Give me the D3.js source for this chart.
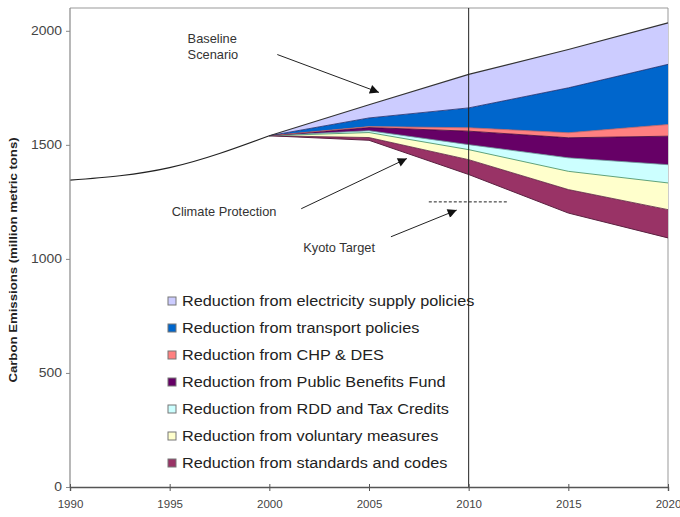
<!DOCTYPE html>
<html>
<head>
<meta charset="utf-8">
<script src="https://cdn.jsdelivr.net/npm/d3@7"></script>
<style>
  body { margin: 0; background: #fff; }
  svg { display: block; font-family: Arial, "Liberation Sans", sans-serif; }
</style>
</head>
<body>
<svg id="chart" width="680" height="517"></svg>
<script>
// history before the scenarios split
const histYears = [1990, 1995, 2000]
const histEmissions = [1345, 1400, 1540]

// scenario years and the stacked reductions (bottom to top)
const years = [2000, 2005, 2010, 2015, 2020]
const climateProtection = [1540, 1520, 1370, 1201, 1092]
const standardsCodes = [0, 12, 65, 103, 124]
const voluntaryMeasures = [0, 22, 44, 80, 117]
const rddTaxCredits = [0, 8, 22, 59, 80]
const publicBenefits = [0, 14, 59, 88, 125]
const chpDes = [0, 4, 15, 22, 51]
const transportPolicies = [0, 38, 87, 197, 264]
const electricitySupply = [0, 58, 147, 168, 182]

const seriesNames = [
  'Reduction from standards and codes',
  'Reduction from voluntary measures',
  'Reduction from RDD and Tax Credits',
  'Reduction from Public Benefits Fund',
  'Reduction from CHP & DES',
  'Reduction from transport policies',
  'Reduction from electricity supply policies'
]
const seriesColors = ['#993366', '#FFFFCC', '#CCFFFF', '#660066', '#FF8080', '#0066CC', '#CCCCFF']
const edgeColors = ['#5a2040', '#3f8a5a', '#6a9a9a', '#3a003a', '#c06060', '#1a2a6a', '#333333']

const kyotoTarget = 1250
const kyotoYears = [2008, 2012]
const tickYears = [1990, 1995, 2000, 2005, 2010, 2015, 2020]
const tickValues = [0, 500, 1000, 1500, 2000]

const svg = d3.select('#chart')
const plotLeft = 70
const plotRight = 668
const plotTop = 8
const plotBottom = 487
// the source picture is a little wider than tall, text looks stretched
const stretch = 1.16

const x = d3.scaleLinear().domain([1990, 2020]).range([plotLeft, plotRight])
const y = d3.scaleLinear().domain([0, 2100]).range([plotBottom, plotTop])

// build the table for the stack
const seriesArrays = [climateProtection, standardsCodes, voluntaryMeasures, rddTaxCredits,
  publicBenefits, chpDes, transportPolicies, electricitySupply]
const keys = ['base'].concat(seriesNames)
const table = years.map((yr, i) => {
  const row = { year: yr }
  keys.forEach((k, j) => { row[k] = seriesArrays[j][i] })
  return row
})
const layers = d3.stack().keys(keys)(table)

const area = d3.area()
  .x(d => x(d.data.year))
  .y0(d => y(d[0]))
  .y1(d => y(d[1]))

const topLine = d3.line()
  .x(d => x(d.data.year))
  .y(d => y(d[1]))

// frame
svg.append('line').attr('x1', plotLeft).attr('x2', plotRight).attr('y1', plotTop).attr('y2', plotTop)
  .attr('stroke', '#999').attr('stroke-width', 1)
svg.append('line').attr('x1', plotRight).attr('x2', plotRight).attr('y1', plotTop).attr('y2', plotBottom)
  .attr('stroke', '#999').attr('stroke-width', 1)

layers.slice(1).forEach((layer, i) => {
  svg.append('path')
    .datum(layer)
    .attr('d', area)
    .attr('fill', seriesColors[i])
})

// edges of each band
svg.append('path')
  .datum(layers[0])
  .attr('d', topLine)
  .attr('fill', 'none')
  .attr('stroke', '#5a2040')
  .attr('stroke-width', 1)
layers.slice(1).forEach((layer, i) => {
  svg.append('path')
    .datum(layer)
    .attr('d', topLine)
    .attr('fill', 'none')
    .attr('stroke', edgeColors[i])
    .attr('stroke-width', i === 6 ? 1.2 : 0.8)
})

// history line
const histLine = d3.line()
  .x((d, i) => x(histYears[i]))
  .y(d => y(d))
  .curve(d3.curveMonotoneX)
svg.append('path')
  .datum(histEmissions)
  .attr('d', histLine)
  .attr('fill', 'none')
  .attr('stroke', '#222')
  .attr('stroke-width', 1.2)

// 2010 marker line
svg.append('line')
  .attr('x1', x(2010)).attr('x2', x(2010))
  .attr('y1', plotTop).attr('y2', plotBottom)
  .attr('stroke', '#222').attr('stroke-width', 1)

// kyoto target
svg.append('line')
  .attr('x1', x(kyotoYears[0])).attr('x2', x(kyotoYears[1]))
  .attr('y1', y(kyotoTarget)).attr('y2', y(kyotoTarget))
  .attr('stroke', '#222').attr('stroke-width', 1)
  .attr('stroke-dasharray', '3,2')

// axes
const yAxis = svg.append('g')
  .attr('transform', `translate(${plotLeft},0)`)
  .call(d3.axisLeft(y).tickValues(tickValues).tickSize(4).tickPadding(4).tickFormat(d3.format('d')))
yAxis.select('.domain').remove()
yAxis.append('line').attr('x1', 0).attr('x2', 0).attr('y1', plotTop).attr('y2', plotBottom)
  .attr('stroke', '#888').attr('stroke-width', 1.2)
yAxis.selectAll('.tick line').attr('stroke', '#888')
yAxis.selectAll('text')
  .attr('x', 0)
  .attr('transform', `translate(-8,0) scale(${stretch},1)`)
  .attr('font-size', 12)
  .attr('fill', '#444')

const xAxis = svg.append('g')
  .attr('transform', `translate(0,${plotBottom})`)
  .call(d3.axisBottom(x).tickValues(tickYears).tickSize(4).tickPadding(9).tickFormat(d3.format('d')))
xAxis.select('.domain').attr('stroke', '#555').attr('stroke-width', 1.4)
xAxis.selectAll('.tick line').attr('y1', -3).attr('stroke', '#555')
xAxis.selectAll('text').attr('font-size', 11.5).attr('fill', '#444')

svg.append('text')
  .attr('transform', 'translate(17,260) rotate(-90) scale(1.2,1)')
  .attr('text-anchor', 'middle')
  .attr('font-size', 11)
  .attr('font-weight', 'bold')
  .attr('fill', '#222')
  .text('Carbon Emissions (million metric tons)')

// annotations
svg.append('defs').append('marker')
  .attr('id', 'arrow')
  .attr('viewBox', '0 0 10 10')
  .attr('refX', 10).attr('refY', 5)
  .attr('markerWidth', 10).attr('markerHeight', 9)
  .attr('markerUnits', 'userSpaceOnUse')
  .attr('orient', 'auto')
  .append('path')
  .attr('d', 'M0,0L10,5L0,10Z')
  .attr('fill', '#111')

const notes = [
  { lines: ['Baseline', 'Scenario'], tx: 1995.9, ty: 1945, from: [2000.4, 1896], to: [2005.5, 1730] },
  { lines: ['Climate Protection'], tx: 1995.1, ty: 1190, from: [2001.6, 1220], to: [2006.9, 1440] },
  { lines: ['Kyoto Target'], tx: 2001.7, ty: 1030, from: [2006.1, 1097], to: [2009.4, 1214] }
]
notes.forEach(n => {
  const t = svg.append('text')
    .attr('transform', `translate(${x(n.tx)},${y(n.ty)}) scale(1.07,1)`)
    .attr('font-size', 12)
    .attr('fill', '#333')
  n.lines.forEach((l, i) => {
    t.append('tspan').attr('x', 0).attr('dy', i === 0 ? 0 : 16).text(l)
  })
  svg.append('line')
    .attr('x1', x(n.from[0])).attr('y1', y(n.from[1]))
    .attr('x2', x(n.to[0])).attr('y2', y(n.to[1]))
    .attr('stroke', '#222').attr('stroke-width', 1)
    .attr('marker-end', 'url(#arrow)')
})

// legend, top entry first
const legend = svg.append('g').attr('transform', 'translate(168,301)')
const legendOrder = d3.range(seriesNames.length).reverse()
legendOrder.forEach((idx, row) => {
  const g = legend.append('g').attr('transform', `translate(0,${row * 27})`)
  g.append('rect')
    .attr('x', 0).attr('y', -4)
    .attr('width', 8).attr('height', 8)
    .attr('fill', seriesColors[idx])
    .attr('stroke', '#777')
    .attr('stroke-width', 1)
  g.append('text')
    .attr('transform', `translate(14,5) scale(${stretch},1)`)
    .attr('font-size', 14)
    .attr('fill', '#222')
    .text(seriesNames[idx])
})
</script>
</body>
</html>
